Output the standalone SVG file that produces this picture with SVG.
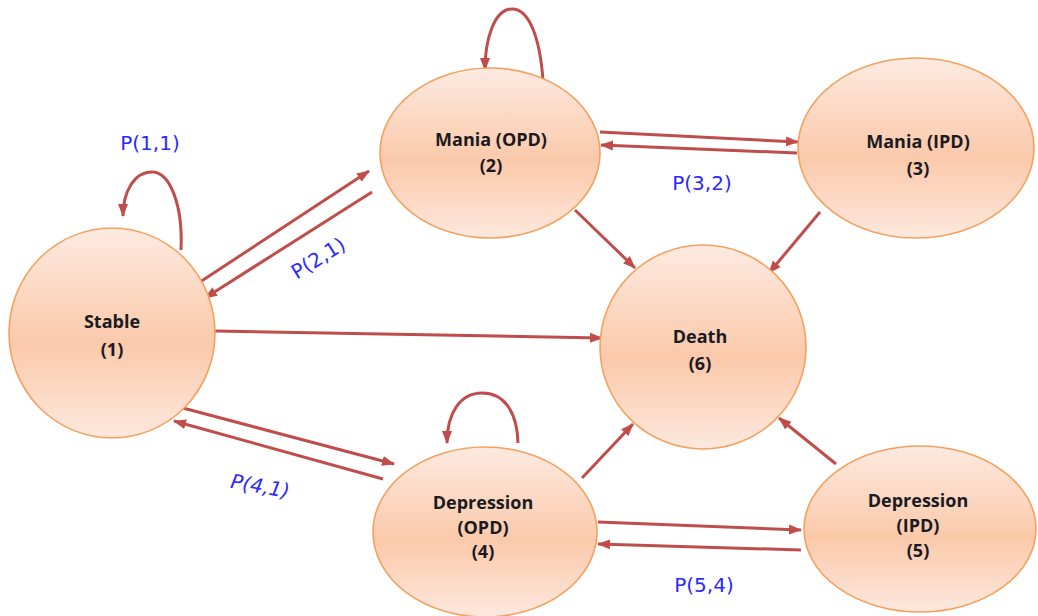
<svg xmlns="http://www.w3.org/2000/svg" width="1038" height="616" viewBox="0 0 1038 616">
<defs>
<linearGradient id="g" x1="0" y1="0" x2="0" y2="1">
<stop offset="0" stop-color="#fdeae1"/>
<stop offset="0.55" stop-color="#fbc9aa"/>
<stop offset="1" stop-color="#fde8de"/>
</linearGradient>
<marker id="ah" markerUnits="userSpaceOnUse" markerWidth="14" markerHeight="12" viewBox="0 0 14 12" refX="12" refY="6" orient="auto">
<path d="M0,1 L13,6 L0,11 Z" fill="#bf4d4b"/>
</marker>
<style>
.n{fill:url(#g);stroke:#f4a15f;stroke-width:1.6}
.t{font-family:"Open Sans","Liberation Sans",sans-serif;font-weight:700;font-size:18px;fill:#1a1a22;text-anchor:middle}
.c{fill:none;stroke:#bf4d4b;stroke-width:3;marker-end:url(#ah)}
.l{font-family:"DejaVu Sans","Liberation Sans",sans-serif;font-size:20px;fill:#2a2aff;text-anchor:middle}
</style>
</defs>
<rect width="1038" height="616" fill="#ffffff"/>
<g id="connectors">
<path class="c" d="M181,250 C183,205 170,172 152,172 C134,172 123,192 123,216"/>
<path class="c" d="M200,282 L369,171"/>
<path class="c" d="M372,192 L205,298"/>
<path class="c" d="M543,80 C540,40 530,9 512,9 C494,9 485,40 485,70"/>
<path class="c" d="M600,132 L798,142"/>
<path class="c" d="M797,153 L601,145"/>
<path class="c" d="M575,210 L635,268"/>
<path class="c" d="M820,212 L769,273"/>
<path class="c" d="M215,331 L602,338"/>
<path class="c" d="M183,408 L394,464"/>
<path class="c" d="M383,479 L174,421"/>
<path class="c" d="M518,443 C517,410 503,393 482,393 C461,393 447,412 447,443"/>
<path class="c" d="M582,478 L633,424"/>
<path class="c" d="M836,464 L779,418"/>
<path class="c" d="M598,522 L801,530"/>
<path class="c" d="M801,550 L598,544"/>
</g>
<g id="labels">
<text class="l" x="150" y="150">P(1,1)</text>
<text class="l" x="0" y="0" transform="translate(322,264) rotate(-32)">P(2,1)</text>
<text class="l" x="702" y="190">P(3,2)</text>
<text class="l" x="0" y="0" font-style="italic" transform="translate(259,493) rotate(10)">P(4,1)</text>
<text class="l" x="704" y="592">P(5,4)</text>
</g>
<g id="node1"><ellipse class="n" cx="112" cy="333" rx="103" ry="105"/><text class="t" x="112" y="328">Stable</text><text class="t" x="112" y="356">(1)</text></g>
<g id="node2"><ellipse class="n" cx="490" cy="153" rx="110" ry="85"/><text class="t" x="491" y="146">Mania (OPD)</text><text class="t" x="491" y="172">(2)</text></g>
<g id="node3"><ellipse class="n" cx="916" cy="148" rx="118" ry="90"/><text class="t" x="918" y="148">Mania (IPD)</text><text class="t" x="918" y="175">(3)</text></g>
<g id="node6"><ellipse class="n" cx="703" cy="347" rx="103" ry="102"/><text class="t" x="700" y="343">Death</text><text class="t" x="700" y="370">(6)</text></g>
<g id="node4"><ellipse class="n" cx="485" cy="532" rx="112" ry="85"/><text class="t" x="483" y="509">Depression</text><text class="t" x="483" y="534">(OPD)</text><text class="t" x="483" y="558">(4)</text></g>
<g id="node5"><ellipse class="n" cx="920" cy="529" rx="116" ry="83"/><text class="t" x="918" y="507">Depression</text><text class="t" x="918" y="532">(IPD)</text><text class="t" x="918" y="557">(5)</text></g>
</svg>
